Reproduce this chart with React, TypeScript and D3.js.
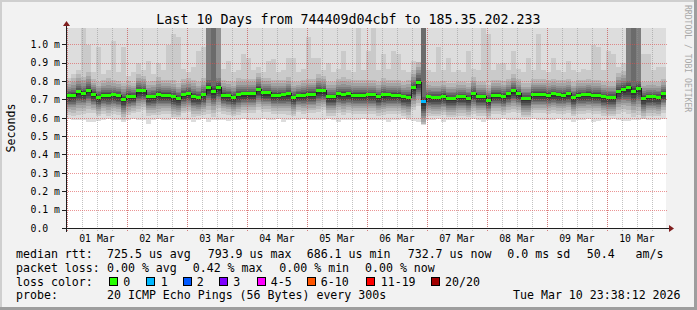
import React from 'react';
import * as d3 from 'd3';

// ---------------- data ----------------
const TITLE = 'Last 10 Days from 744409d04cbf to 185.35.202.233';
const Y_LABEL = 'Seconds';
const WATERMARK = 'RRDTOOL / TOBI OETIKER';
const START = Date.UTC(2026, 1, 28, 23, 38, 12);
const END = Date.UTC(2026, 2, 10, 23, 38, 12);
const STEP_HOURS = 2;
const Y_MAX = 1.088; // ms

const yTickValues = [0, 0.1, 0.2, 0.3, 0.4, 0.5, 0.6, 0.7, 0.8, 0.9, 1.0];
const yTickLabels = ['0.0', '0.1 m', '0.2 m', '0.3 m', '0.4 m', '0.5 m', '0.6 m', '0.7 m', '0.8 m', '0.9 m', '1.0 m'];
const dayLabels = ['01 Mar', '02 Mar', '03 Mar', '04 Mar', '05 Mar', '06 Mar', '07 Mar', '08 Mar', '09 Mar', '10 Mar'];

// median rtt per 2h slot (ms)
const medianRtt = [
  0.720, 0.723, 0.740, 0.733, 0.750, 0.728, 0.710, 0.723, 0.723, 0.725,
  0.720, 0.700, 0.717, 0.717, 0.746, 0.746, 0.714, 0.716, 0.728, 0.723,
  0.723, 0.714, 0.705, 0.726, 0.732, 0.717, 0.710, 0.726, 0.765, 0.745,
  0.765, 0.723, 0.720, 0.710, 0.726, 0.730, 0.730, 0.730, 0.754, 0.735,
  0.735, 0.723, 0.723, 0.725, 0.730, 0.710, 0.723, 0.723, 0.728, 0.728,
  0.746, 0.746, 0.714, 0.714, 0.730, 0.728, 0.730, 0.723, 0.723, 0.723,
  0.725, 0.725, 0.714, 0.725, 0.725, 0.723, 0.723, 0.714, 0.712, 0.762,
  0.794, 0.686, 0.714, 0.710, 0.710, 0.717, 0.705, 0.705, 0.714, 0.714,
  0.705, 0.732, 0.714, 0.714, 0.696, 0.723, 0.723, 0.717, 0.730, 0.746,
  0.730, 0.705, 0.705, 0.728, 0.728, 0.728, 0.723, 0.730, 0.725, 0.723,
  0.730, 0.710, 0.723, 0.725, 0.728, 0.723, 0.723, 0.714, 0.710, 0.710,
  0.745, 0.754, 0.762, 0.745, 0.760, 0.705, 0.714, 0.714, 0.710, 0.730,
];

// lost pings per slot (of 20)
const lossCount = [
  0, 0, 0, 0, 0, 0, 0, 0, 0, 0, 0, 0, 0, 0, 0, 0, 0, 0, 0, 0,
  0, 0, 0, 0, 0, 0, 0, 0, 0, 0, 0, 0, 0, 0, 0, 0, 0, 0, 0, 0,
  0, 0, 0, 0, 0, 0, 0, 0, 0, 0, 0, 0, 0, 0, 0, 0, 0, 0, 0, 0,
  0, 0, 0, 0, 0, 0, 0, 0, 0, 0, 0, 1, 0, 0, 0, 0, 0, 0, 0, 0,
  0, 0, 0, 0, 0, 0, 0, 0, 0, 0, 0, 0, 0, 0, 0, 0, 0, 0, 0, 0,
  0, 0, 0, 0, 0, 0, 0, 0, 0, 0, 0, 0, 0, 0, 0, 0, 0, 0, 0, 0,
];

// lowest ping per slot (ms)
const pingLowest = [
  0.597, 0.592, 0.590, 0.592, 0.582, 0.580, 0.587, 0.592, 0.597, 0.590,
  0.592, 0.580, 0.590, 0.594, 0.592, 0.590, 0.570, 0.592, 0.595, 0.590,
  0.592, 0.594, 0.590, 0.592, 0.590, 0.577, 0.592, 0.594, 0.582, 0.590,
  0.592, 0.590, 0.584, 0.592, 0.590, 0.594, 0.592, 0.590, 0.592, 0.595,
  0.590, 0.592, 0.594, 0.582, 0.592, 0.590, 0.592, 0.594, 0.590, 0.592,
  0.592, 0.590, 0.595, 0.592, 0.582, 0.590, 0.592, 0.592, 0.590, 0.594,
  0.592, 0.590, 0.592, 0.592, 0.580, 0.590, 0.592, 0.594, 0.590, 0.587,
  0.582, 0.565, 0.590, 0.592, 0.594, 0.582, 0.590, 0.592, 0.592, 0.590,
  0.592, 0.594, 0.590, 0.582, 0.592, 0.590, 0.592, 0.594, 0.590, 0.592,
  0.592, 0.590, 0.592, 0.594, 0.590, 0.592, 0.590, 0.592, 0.594, 0.590,
  0.592, 0.582, 0.590, 0.592, 0.594, 0.580, 0.584, 0.590, 0.592, 0.594,
  0.590, 0.587, 0.584, 0.590, 0.592, 0.594, 0.590, 0.592, 0.592, 0.594,
];

// 19th of 20 pings per slot (ms)
const pingSecondHighest = [
  0.820, 0.840, 0.860, 1.090, 1.000, 0.850, 0.985, 0.840, 0.860, 1.020,
  0.850, 0.990, 0.830, 0.850, 0.900, 0.860, 0.910, 0.840, 0.900, 0.860,
  1.000, 1.060, 1.040, 0.870, 0.850, 0.880, 0.967, 0.985, 1.090, 1.090,
  1.090, 0.870, 0.913, 0.850, 0.860, 0.950, 0.930, 0.860, 0.880, 0.850,
  0.913, 0.920, 0.850, 0.860, 0.930, 0.930, 0.850, 0.870, 1.040, 0.930,
  0.930, 0.860, 0.900, 0.850, 0.870, 0.967, 0.860, 0.850, 1.090, 0.860,
  0.967, 1.090, 0.860, 0.950, 0.870, 0.967, 0.950, 0.860, 0.850, 0.913,
  0.900, 1.090, 0.860, 0.850, 0.985, 0.860, 0.930, 0.850, 0.860, 0.850,
  0.967, 0.870, 0.860, 1.090, 1.060, 0.860, 0.895, 0.900, 0.860, 0.967,
  0.870, 0.850, 0.930, 0.860, 1.058, 0.860, 0.850, 0.930, 0.860, 0.850,
  0.913, 0.860, 0.850, 0.870, 0.860, 1.000, 0.985, 0.860, 0.967, 0.950,
  0.880, 0.900, 1.090, 1.090, 1.090, 0.950, 0.950, 0.860, 0.880, 0.880,
];

// width of the smoke around the median, relative
const smokeSpread = [
  1.0, 1.1, 1.2, 1.1, 1.2, 1.0, 1.0, 1.0, 1.1, 1.0,
  1.0, 1.1, 1.0, 0.9, 1.1, 1.0, 1.0, 1.0, 1.1, 1.0,
  1.0, 1.1, 1.0, 1.0, 1.0, 1.1, 1.0, 1.1, 1.4, 1.4,
  1.3, 1.0, 1.0, 1.0, 1.1, 1.0, 1.0, 1.0, 1.1, 1.0,
  1.0, 1.0, 1.0, 1.0, 1.1, 1.0, 0.9, 1.0, 1.0, 1.0,
  1.1, 1.0, 1.0, 1.0, 1.0, 1.1, 1.0, 1.0, 1.0, 1.0,
  1.0, 1.0, 1.0, 1.1, 1.0, 1.0, 1.0, 1.0, 1.1, 1.2,
  1.3, 1.5, 1.0, 1.0, 1.0, 1.0, 1.0, 1.0, 1.0, 1.0,
  1.0, 1.1, 1.0, 1.0, 1.0, 1.0, 1.0, 1.0, 1.0, 1.1,
  1.0, 1.0, 1.0, 1.0, 1.0, 1.0, 1.0, 1.0, 1.0, 1.0,
  1.0, 1.0, 1.0, 1.0, 1.0, 1.0, 1.0, 1.0, 1.0, 1.0,
  1.2, 1.2, 1.4, 1.4, 1.4, 1.1, 1.0, 1.0, 1.0, 1.0,
];

// number of pings above the top of the graph
const pingsAboveTop = [
  1, 1, 1, 1, 1, 1, 1, 1, 1, 1, 1, 1, 1, 1, 1, 1, 1, 1, 1, 1,
  1, 1, 1, 1, 1, 1, 1, 1, 6, 7, 5, 1, 1, 1, 1, 1, 1, 1, 1, 1,
  1, 1, 1, 1, 1, 1, 1, 1, 1, 1, 1, 1, 1, 1, 1, 1, 1, 1, 1, 1,
  1, 1, 1, 1, 1, 1, 1, 1, 1, 1, 1, 7, 1, 1, 1, 1, 1, 1, 1, 1,
  1, 1, 1, 1, 1, 1, 1, 1, 1, 1, 1, 1, 1, 1, 1, 1, 1, 1, 1, 1,
  1, 1, 1, 1, 1, 1, 1, 1, 1, 1, 1, 1, 6, 7, 6, 1, 1, 1, 1, 1,
];

// typical ping offsets from the median (ms): pings 2..10 and 11..18
const lowerOffsets = [-0.100, -0.085, -0.070, -0.058, -0.048, -0.040, -0.032, -0.024, -0.012];
const upperOffsets = [0.004, 0.012, 0.020, 0.030, 0.040, 0.052, 0.066, 0.085];

const lossLegendLabels = ['0', '1', '2', '3', '4-5', '6-10', '11-19', '20/20'];
const lossLegendThresholds = [0, 1, 2, 3, 4, 6, 11, 20];
const lossColors = ['#26ff00', '#00b8ff', '#0059ff', '#7e00ff', '#ff00ff', '#ff5500', '#ff0000', '#a10000'];

const legendRtt = ['median rtt:', '725.5 us avg', '793.9 us max', '686.1 us min', '732.7 us now', '0.0 ms sd', '50.4', 'am/s'];
const legendLoss = ['packet loss:', '0.00 % avg', '0.42 % max', '0.00 % min', '0.00 % now'];
const legendLossColor = 'loss color:';
const legendProbe = ['probe:', '20 ICMP Echo Pings (56 Bytes) every 300s', 'Tue Mar 10 23:38:12 2026'];

// ---------------- layout ----------------
const W = 697;
const H = 310;
const PLOT_L = 66;
const PLOT_R = 666;
const PLOT_T = 28;
const PLOT_B = 228;
const MONO = '"DejaVu Sans Mono", monospace';
const rttX = [16, 107, 207.7, 306.7, 407.7, 507.3, 586.7, 635.5];
const lossX = [16, 107, 192.7, 279.3, 365];
const boxX = [109, 145.7, 182.7, 219.3, 256.7, 307.3, 365.7, 430.7];
const boxLabelX = [123.3, 160.7, 196.7, 233.3, 270.7, 320.7, 380.7, 445];
const probeX = [16, 107, 513];

function lossColor(n: number) {
  let c = lossColors[0];
  lossLegendThresholds.forEach((t, i) => { if (n >= t) c = lossColors[i]; });
  return c;
}

export default function App() {
  const x = d3.scaleUtc().domain([new Date(START), new Date(END)]).range([PLOT_L, PLOT_R]);
  const y = d3.scaleLinear().domain([0, Y_MAX]).range([PLOT_B + 0.5, PLOT_T + 0.5]);
  const py = (v: number) => Math.max(PLOT_T, Math.min(PLOT_B, Math.round(y(v))));

  const cols = medianRtt.map((m, i) => {
    const t0 = new Date(START + i * STEP_HOURS * 3600e3);
    const t1 = new Date(START + (i + 1) * STEP_HOURS * 3600e3);
    const x0 = Math.round(x(t0));
    const x1 = Math.min(PLOT_R, Math.round(x(t1)));
    const s = smokeSpread[i];
    const pings: number[] = [];
    pings.push(pingLowest[i]);
    lowerOffsets.forEach((o) => pings.push(Math.max(pingLowest[i] + 0.004, m + o * s)));
    upperOffsets.forEach((o) => pings.push(m + o * s));
    pings.push(pingSecondHighest[i]);
    pings.push(2);
    for (let k = 0; k < pingsAboveTop[i]; k++) pings[19 - k] = 2;
    return { x0, x1, m, pings, loss: lossCount[i] };
  });

  const bands = d3.range(1, 11).map((b) => {
    const g = Math.floor((190 / 10) * (10 - b)) + 50;
    return { b, color: d3.rgb(g, g, g).formatHex() };
  });

  const minorTicks = d3.utcHour.every(6)!.range(new Date(START), new Date(END));
  const dayTicks = d3.utcDay.range(new Date(START), new Date(END));

  const stepPts: [number, number][] = cols.map((c) => [c.x0, y(c.m)]);
  stepPts.push([cols[cols.length - 1].x1, y(cols[cols.length - 1].m)]);
  const medianPath = d3.line().curve(d3.curveStepAfter)(stepPts) || '';

  const baseRows = [258, 272, 286, 299];
  const pre = { whiteSpace: 'pre' as const };

  return (
    <svg width={W} height={H} style={{ position: 'absolute', left: 0, top: 0 }} fontFamily={MONO}>
      <defs>
        <clipPath id="plot">
          <rect x={PLOT_L} y={PLOT_T} width={PLOT_R - PLOT_L} height={PLOT_B - PLOT_T} />
        </clipPath>
      </defs>
      {/* background & frame */}
      <rect x={0} y={0} width={W} height={H} fill="#f2f2f2" />
      <rect x={0} y={0} width={W} height={2} fill="#cfcfcf" />
      <rect x={0} y={0} width={2} height={H} fill="#cfcfcf" />
      <rect x={W - 3} y={0} width={3} height={H} fill="#9e9e9e" />
      <rect x={0} y={H - 3} width={W} height={3} fill="#9e9e9e" />
      <rect x={PLOT_L} y={PLOT_T} width={PLOT_R - PLOT_L} height={PLOT_B - PLOT_T} fill="#ffffff" />

      {/* smoke */}
      <g clipPath="url(#plot)" shapeRendering="crispEdges">
        {bands.map(({ b, color }) => (
          <g key={b} fill={color}>
            {cols.map((c, i) => {
              const yTop = py(c.pings[20 - b]);
              const yBot = py(c.pings[b - 1]);
              if (yBot <= yTop) return null;
              return <rect key={i} x={c.x0} y={yTop} width={c.x1 - c.x0} height={yBot - yTop} />;
            })}
          </g>
        ))}
      </g>

      {/* grid */}
      <g shapeRendering="crispEdges" strokeWidth={1} strokeDasharray="1,1">
        {minorTicks.map((t, i) => {
          const xx = Math.round(x(t)) + 0.5;
          if (xx < PLOT_L + 1) return null;
          return <line key={'mn' + i} x1={xx} x2={xx} y1={PLOT_T} y2={PLOT_B + 3} stroke="#8f8f8f" strokeOpacity={0.55} />;
        })}
        {dayTicks.map((t, i) => {
          const xx = Math.round(x(t)) + 0.5;
          if (xx < PLOT_L + 1) return null;
          return <line key={'mj' + i} x1={xx} x2={xx} y1={PLOT_T} y2={PLOT_B + 3} stroke="#de4f4f" strokeOpacity={0.6} />;
        })}
        {yTickValues.map((v, i) => {
          if (v === 0) return null;
          const yy = Math.round(y(v) - 0.5) + 0.5;
          return <line key={'h' + i} x1={PLOT_L} x2={PLOT_R + 2} y1={yy} y2={yy} stroke="#de4f4f" strokeOpacity={0.6} />;
        })}
      </g>

      {/* median */}
      <g clipPath="url(#plot)">
        <path d={medianPath} fill="none" stroke="#202020" strokeWidth={1} shapeRendering="crispEdges" transform="translate(0,-0.5)" />
        <g shapeRendering="crispEdges">
          {cols.map((c, i) => {
            const ym = Math.round(y(c.m));
            return <rect key={i} x={c.x0} y={ym - 2} width={c.x1 - c.x0} height={3} fill={lossColor(c.loss)} />;
          })}
        </g>
      </g>

      {/* axes */}
      <g shapeRendering="crispEdges" stroke="#1f1f1f">
        <line x1={PLOT_L + 0.5} x2={PLOT_L + 0.5} y1={PLOT_B + 4} y2={PLOT_T - 2} />
        <line x1={PLOT_L - 4} x2={PLOT_R + 3} y1={PLOT_B + 0.5} y2={PLOT_B + 0.5} />
        {yTickValues.map((v, i) => {
          const yy = Math.round(y(v) - 0.5) + 0.5;
          return <line key={i} x1={PLOT_L - 4} x2={PLOT_L} y1={yy} y2={yy} />;
        })}
      </g>
      <polygon points={`${PLOT_L + 0.5},${PLOT_T - 7} ${PLOT_L - 3},${PLOT_T - 2} ${PLOT_L + 4},${PLOT_T - 2}`} fill="#801f1f" />
      <polygon points={`${PLOT_R + 8},${PLOT_B + 0.5} ${PLOT_R + 3},${PLOT_B - 3} ${PLOT_R + 3},${PLOT_B + 4}`} fill="#801f1f" />

      {/* tick labels */}
      <g fontSize={9.8} fill="#000">
        {yTickLabels.map((l, i) => (
          <text key={i} x={30.5} y={y(yTickValues[i]) + 3.3}>{l}</text>
        ))}
        {dayTicks.map((t, i) => (
          <text key={i} x={x(new Date(t.getTime() + 12 * 3600e3))} y={242} textAnchor="middle">{dayLabels[i]}</text>
        ))}
      </g>

      {/* title & side labels */}
      <text x={348.5} y={23.7} fontSize={13.3} textAnchor="middle" fill="#000">{TITLE}</text>
      <text transform="translate(14.5,128) rotate(-90)" fontSize={11.6} textAnchor="middle" fill="#000">{Y_LABEL}</text>
      <text transform="translate(685,5) rotate(90)" fontSize={8.1} fill="#a8a8a8">{WATERMARK}</text>

      {/* legend */}
      <g fontSize={11.6} fill="#000">
        {legendRtt.map((s, i) => <text key={'r' + i} x={rttX[i]} y={baseRows[0]} style={pre}>{s}</text>)}
        {legendLoss.map((s, i) => <text key={'l' + i} x={lossX[i]} y={baseRows[1]} style={pre}>{s}</text>)}
        <text x={16} y={baseRows[2]}>{legendLossColor}</text>
        {lossLegendLabels.map((s, i) => (
          <g key={'b' + i}>
            <rect x={boxX[i] + 0.5} y={baseRows[2] - 8.5} width={8} height={8} fill={lossColors[i]} stroke="#000" strokeWidth={1} shapeRendering="crispEdges" />
            <text x={boxLabelX[i]} y={baseRows[2]}>{s}</text>
          </g>
        ))}
        {legendProbe.map((s, i) => <text key={'p' + i} x={probeX[i]} y={baseRows[3]} style={pre}>{s}</text>)}
      </g>
    </svg>
  );
}
